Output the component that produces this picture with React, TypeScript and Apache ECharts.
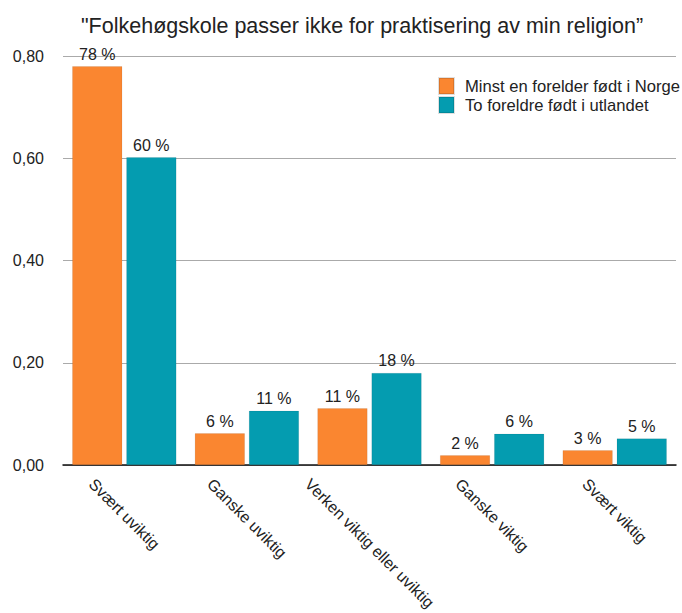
import React, { useEffect, useRef } from "react";
import * as echarts from "echarts";

const TITLE = "\"Folkehøgskole passer ikke for praktisering av min religion”";
const categories = ["Svært uviktig", "Ganske uviktig", "Verken viktig eller uviktig", "Ganske viktig", "Svært viktig"];
const seriesNames = ["Minst en forelder født i Norge", "To foreldre født i utlandet"];
const norgeValues = [0.78, 0.062, 0.111, 0.019, 0.029];
const utlandValues = [0.602, 0.106, 0.18, 0.061, 0.052];
const yTicks = [0, 0.2, 0.4, 0.6, 0.8];
const colors = ["#FA8630", "#049CB0"];

const FONT = "'Liberation Sans', Arial, Helvetica, sans-serif";

export default function App() {
  const ref = useRef<HTMLDivElement>(null);
  useEffect(() => {
    if (!ref.current) return;
    const chart = echarts.init(ref.current, null, { renderer: "svg" });
    const mkSeries = (name: string, data: number[], color: string) => ({
      name,
      type: "bar",
      data,
      barGap: "8%",
      barCategoryGap: "15%",
      itemStyle: { color, borderColor: "rgba(0,0,0,0.12)", borderWidth: 0.6 },
      label: {
        show: true,
        position: "top",
        distance: 4,
        fontFamily: FONT,
        fontSize: 16,
        color: "#222",
        formatter: (p: any) => Math.round(p.value * 100) + " %",
      },
    });
    chart.setOption({
      animation: false,
      backgroundColor: "#fff",
      title: {
        text: TITLE,
        left: 357,
        textAlign: "center",
        top: 10,
        textStyle: { fontFamily: FONT, fontSize: 21.5, fontWeight: "normal", color: "#222" },
      },
      legend: {
        orient: "vertical",
        left: 438,
        top: 77,
        padding: 0,
        itemWidth: 15,
        itemHeight: 16,
        itemGap: 1,
        icon: "rect",
        data: seriesNames,
        textStyle: { fontFamily: FONT, fontSize: 16.6, color: "#222", padding: [0, 0, 0, 6] },
      },
      grid: { left: 63, right: 6, top: 56, bottom: 613 - 465 },
      xAxis: {
        type: "category",
        data: categories,
        axisLine: { show: true, lineStyle: { color: "#111", width: 1.5 } },
        axisTick: { show: false },
        axisLabel: { show: false },
      },
      yAxis: {
        type: "value",
        min: yTicks[0],
        max: yTicks[yTicks.length - 1],
        interval: 0.2,
        axisLine: { show: false },
        axisTick: { show: false },
        splitLine: { lineStyle: { color: "#aaaaaa", width: 1 } },
        axisLabel: {
          margin: 19,
          fontFamily: FONT,
          fontSize: 16,
          color: "#222",
          formatter: (v: number) => v.toFixed(2).replace(".", ","),
        },
      },
      series: [
        mkSeries(seriesNames[0], norgeValues, colors[0]),
        mkSeries(seriesNames[1], utlandValues, colors[1]),
      ],
    });

    // rotated category labels centred under each category
    const canvas = document.createElement("canvas");
    const ctx = canvas.getContext("2d")!;
    const fs = 16;
    ctx.font = `${fs}px ${FONT}`;
    const baseY = chart.convertToPixel({ yAxisIndex: 0 }, 0) as number;
    const graphics = categories.map((c) => {
      const cx = chart.convertToPixel({ xAxisIndex: 0 }, c) as number;
      const L = ctx.measureText(c).width;
      const cy = baseY + 12 + 0.354 * (L + 12);
      return {
        type: "text",
        x: cx,
        y: cy,
        rotation: -Math.PI / 4,
        style: {
          text: c,
          fontFamily: FONT,
          fontSize: fs,
          fill: "#222",
          align: "center",
          verticalAlign: "middle",
        },
      };
    });
    chart.setOption({ graphic: graphics });
    return () => chart.dispose();
  }, []);
  return <div ref={ref} style={{ width: 682, height: 613, position: "absolute", left: 0, top: 0 }} />;
}
